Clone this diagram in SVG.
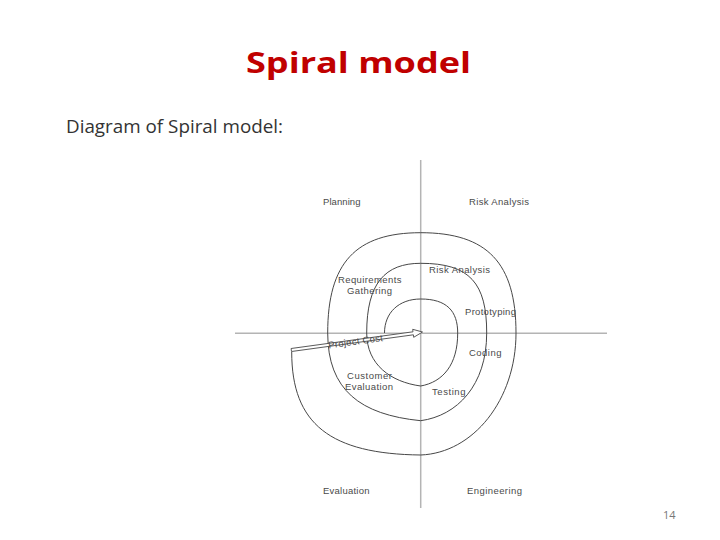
<svg xmlns="http://www.w3.org/2000/svg" width="720" height="540" viewBox="0 0 720 540">
<style>
.title{font-family:"Open Sans","Liberation Sans",sans-serif;font-weight:700;font-size:29px;fill:#C00000}
.sub{font-family:"Open Sans","Liberation Sans",sans-serif;font-size:17.5px;fill:#333}
.pg{font-family:"Open Sans","Liberation Sans",sans-serif;font-size:11px;fill:#777}
.lbl{font-family:"Liberation Sans",Arial,sans-serif;font-size:9.5px;fill:#4a4a4a}
.axis{stroke:#b4b4b4;stroke-width:1.5;fill:none}
.spiral{stroke:#474747;stroke-width:1;fill:none}
.arrow{stroke:#474747;stroke-width:0.9;fill:#fff}
</style>
<rect width="720" height="540" fill="#fff"/>
<text class="title" x="246" y="73" textLength="225" lengthAdjust="spacingAndGlyphs">Spiral model</text>
<text class="sub" x="66" y="133" textLength="217" lengthAdjust="spacingAndGlyphs">Diagram of Spiral model:</text>
<g id="axes">
<line class="axis" x1="420.7" y1="160" x2="420.7" y2="508"/>
<line class="axis" x1="235" y1="333.3" x2="607" y2="333.3"/>
</g>
<g id="connectors">
<path id="spiral" class="spiral" d="M384.5,333 C384.5,312.6 399,299 420.7,299 C446.7,299 457.7,311 457.7,333 C457.7,364.8 442.9,382 420.7,386 C391,382 366.7,364.8 366.7,333 C366.7,283.3 385,263.3 420.7,263.3 C470,263.3 486.7,283.3 486.7,333 C486.7,385.6 457,415.7 420.7,420.7 C360.2,414.7 327.7,390 327.7,333 C327.7,263 355.6,232.7 420.7,232.7 C487.4,232.7 516,263 516,333 C516,400 473.1,453 420.7,455 C330.4,454 291.7,424.1 291.7,352"/>
<polygon id="cost-arrow" class="arrow" points="291.1,348.5 413,331.8 412.7,329.3 422.5,332 413.7,337.3 413.4,334.8 291.5,351.5"/>
</g>
<g id="quadrants">
<text class="lbl" x="323" y="205" textLength="37.5">Planning</text>
<text class="lbl" x="469" y="205" textLength="60">Risk Analysis</text>
<text class="lbl" x="323" y="493.5" textLength="46.5">Evaluation</text>
<text class="lbl" x="467" y="493.5" textLength="55">Engineering</text>
</g>
<g id="steps">
<text class="lbl" x="338" y="282.5" textLength="63.5">Requirements</text>
<text class="lbl" x="347" y="294" textLength="45">Gathering</text>
<text class="lbl" x="429" y="273" textLength="61">Risk Analysis</text>
<text class="lbl" x="465" y="315" textLength="51">Prototyping</text>
<text class="lbl" x="469" y="356" textLength="32.5">Coding</text>
<text class="lbl" x="432" y="395" textLength="33.5">Testing</text>
<text class="lbl" x="347" y="378.5" textLength="45">Customer</text>
<text class="lbl" x="345" y="390" textLength="48">Evaluation</text>
<text class="lbl" x="355.5" y="344.8" text-anchor="middle" textLength="55" transform="rotate(-7.8 355.5 341.5)">Project Cost</text>
</g>
<text class="pg" x="663" y="519">14</text>
</svg>
